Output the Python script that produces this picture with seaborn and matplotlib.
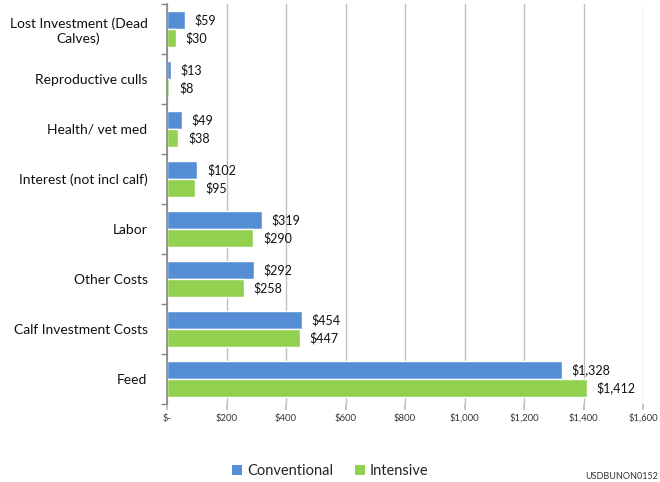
import matplotlib
matplotlib.use("Agg")
import matplotlib.pyplot as plt
import seaborn as sns
import pandas as pd
import numpy as np
from matplotlib.patches import Patch

categories = ["Lost Investment (Dead\nCalves)", "Reproductive culls", "Health/ vet med",
              "Interest (not incl calf)", "Labor", "Other Costs",
              "Calf Investment Costs", "Feed"]
conventional = [59, 13, 49, 102, 319, 292, 454, 1328]
intensive = [30, 8, 38, 95, 290, 258, 447, 1412]
series = ["Conventional", "Intensive"]
xticks = [0, 200, 400, 600, 800, 1000, 1200, 1400, 1600]
xticklabels = ["$-", "$200", "$400", "$600", "$800", "$1,000", "$1,200", "$1,400", "$1,600"]

df = pd.DataFrame({
    "Category": categories * 2,
    "Value": conventional + intensive,
    "Series": [series[0]] * len(categories) + [series[1]] * len(categories),
})

sns.set_theme(style="white")
plt.rcParams['font.family'] = ['Lato', 'DejaVu Sans']

colors = {"Conventional": "#558ED5", "Intensive": "#92D050"}

fig = plt.figure(figsize=(6.6, 4.82), dpi=100)
ax = fig.add_axes([167/660, 1-404/482, 476/660, 400/482])

sns.barplot(data=df, y="Category", x="Value", hue="Series", order=categories,
            hue_order=series, palette=colors, orient="h", width=0.72, gap=0.04,
            ax=ax, legend=False, saturation=1)

ax.set_xlim(0, 1600)
ax.set_ylim(len(categories) - 0.5, -0.5)
ax.set_xticks(xticks)
ax.set_xticklabels(xticklabels, fontsize=6.8, color="#333333")
ax.xaxis.grid(True, color="#BFBFBF", linewidth=1)
ax.set_axisbelow(True)
ax.tick_params(axis="x", length=4, color="#BFBFBF", pad=3, bottom=True)
ax.set_xlabel("")
ax.set_ylabel("")
ax.tick_params(axis="y", length=0, labelsize=10, pad=14, labelcolor="#111111")
for lab in ax.get_yticklabels():
    lab.set_multialignment("center")
ax.set_yticks(np.arange(-0.5, len(categories), 1), minor=True)
ax.tick_params(axis="y", which="minor", length=4, color="#888888", left=True)

for sp in ["top", "right"]:
    ax.spines[sp].set_visible(False)
ax.spines["bottom"].set_visible(False)
ax.spines["left"].set_color("#888888")

for cont, s in zip(ax.containers, series):
    labels = ["${:,}".format(int(round(b.get_width()))) for b in cont]
    ax.bar_label(cont, labels=labels, padding=7, fontsize=9, color="#111111")

handles = [Patch(facecolor=colors[s], edgecolor="none", label=s) for s in series]
fig.legend(handles=handles, loc="center", bbox_to_anchor=(330/660, 1-471/482), ncol=2,
           frameon=False, fontsize=10.5, handlelength=0.7, handleheight=0.7,
           handletextpad=0.3, columnspacing=1.5)

fig.text(658/660, 1/482, "USDBUNON0152", fontsize=6.5, color="#333333",
         ha="right", va="bottom")

fig.savefig("out.png", dpi=100)
